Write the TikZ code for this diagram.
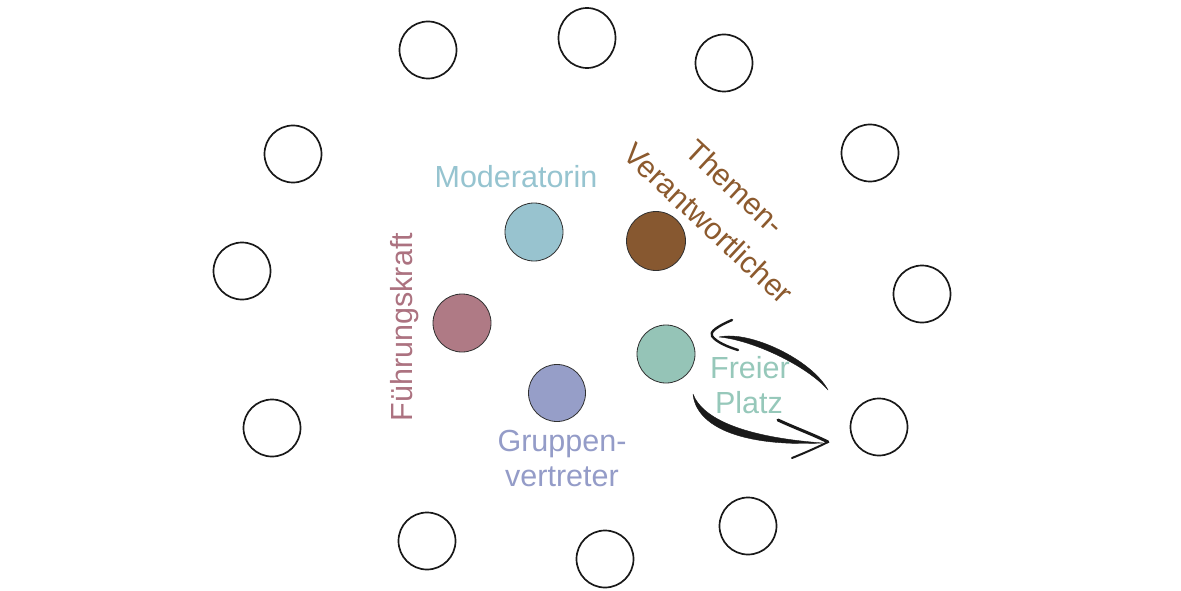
\documentclass[tikz,border=0pt]{standalone}
\usepackage{fontspec}
\setmainfont{Liberation Sans}
\usetikzlibrary{calc,shapes.geometric}
\definecolor{cmod}{RGB}{152,195,207}
\definecolor{cmodt}{RGB}{150,196,208}
\definecolor{cthem}{RGB}{135,88,48}
\definecolor{cthemt}{RGB}{140,90,46}
\definecolor{cfuehr}{RGB}{175,122,133}
\definecolor{cfuehrt}{RGB}{172,114,128}
\definecolor{cgrupp}{RGB}{150,158,200}
\definecolor{cgruppt}{RGB}{148,156,200}
\definecolor{cfrei}{RGB}{149,196,183}
\definecolor{cfreit}{RGB}{150,200,186}
\definecolor{ink}{RGB}{25,25,25}
\begin{document}
\begin{tikzpicture}[x=1pt,y=-1pt,
  seat/.style={circle, draw=ink, line width=1.7pt, minimum size=57pt, inner sep=0pt},
  person/.style={circle, draw=ink!90, line width=0.8pt, minimum size=58pt, inner sep=0pt},
  lbl/.style={font=\fontsize{30.5}{35}\selectfont, inner sep=0pt, anchor=base},
  brush/.style={fill=ink, draw=ink, line width=0.4pt, line join=round},
  barb/.style={draw=ink, line cap=round, line join=round}]
\useasboundingbox (0,0) rectangle (1181,591);
\fill[white] (0,0) rectangle (1181,591);
% outer seats
\node[seat] (o1) at (428,50) {};
\node[seat, ellipse, minimum width=57pt, minimum height=60pt] (o2) at (587,38) {};
\node[seat] (o3) at (724,63) {};
\node[seat] (o4) at (293,154) {};
\node[seat] (o5) at (870,153) {};
\node[seat] (o6) at (242,271) {};
\node[seat] (o7) at (922,294) {};
\node[seat] (o8) at (272,428) {};
\node[seat] (o9) at (879,427) {};
\node[seat] (o10) at (427,541) {};
\node[seat] (o11) at (605,559) {};
\node[seat] (o12) at (748,526) {};
% persons
\node[person, fill=cmod] (mod) at (534,232) {};
\node[person, fill=cthem, minimum size=59pt] (them) at (656,241) {};
\node[person, fill=cfuehr] (fuehr) at (462,323) {};
\node[person, fill=cgrupp, minimum size=57pt] (grupp) at (557,393) {};
\node[person, fill=cfrei] (frei) at (666,354) {};
% labels
\node[lbl, text=cmodt] (lmod) at (516,187) {Moderatorin};
\node[lbl, text=cthemt, rotate=-43] (lthem1) at (728,195) {Themen-};
\node[lbl, text=cthemt, rotate=-43] (lthem2) at (701,231) {Verantwortlicher};
\node[lbl, text=cfuehrt, rotate=90] (lfuehr) at (412,327) {Führungskraft};
\node[lbl, text=cgruppt] (lgrupp1) at (562,451) {Gruppen-};
\node[lbl, text=cgruppt] (lgrupp2) at (562,486) {vertreter};
\node[lbl, text=cfreit] (lfrei1) at (750,378) {Freier};
\node[lbl, text=cfreit] (lfrei2) at (749,413) {Platz};
% arrow anchor points
\coordinate (as) at ($(o9)+(-51,-37)$);
\coordinate (ae) at ($(frei)+(53,-17)$);
\coordinate (bs) at ($(frei)+(27,40)$);
\coordinate (be) at ($(o9)+(-56,16)$);
\coordinate (btip) at ($(o9)+(-51,15)$);
% upper arrow (seat -> free place)
\path[brush] (as) .. controls (812,360) and (750,330) .. (ae)
  .. controls (752,340) and (806,365) .. (as) -- cycle;
\draw[barb, line width=2.4pt] (732,320) .. controls (718,326) and (709,332) .. (712,336)
  .. controls (716,342) and (728,347) .. (738,350);
% lower arrow (free place -> seat)
\path[brush] (bs) .. controls (696,426) and (740,447) .. (be)
  .. controls (742,437) and (702,418) .. (bs) -- cycle;
\draw[barb, line width=3pt] (778,420) .. controls (795,428) and (812,434) .. (btip);
\draw[barb, line width=2pt] (btip) .. controls (816,448) and (802,454) .. (792,458);
\end{tikzpicture}
\end{document}
